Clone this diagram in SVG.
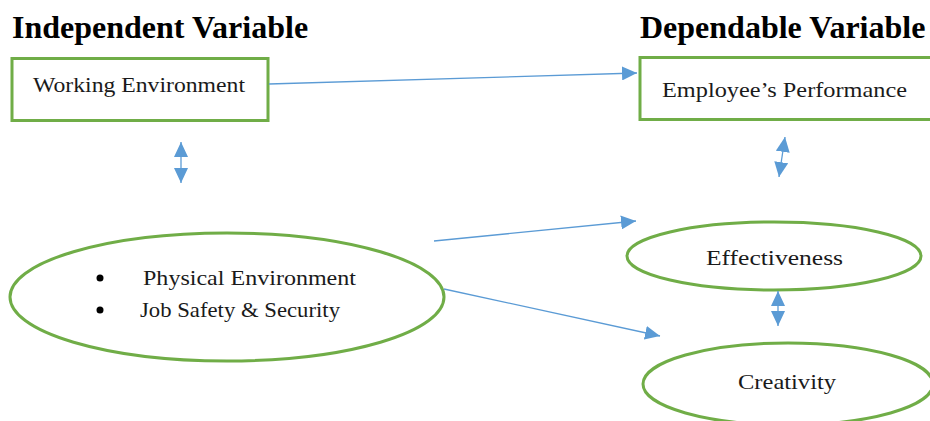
<svg xmlns="http://www.w3.org/2000/svg" width="930" height="421" viewBox="0 0 930 421">
<style>
.title{font-family:"Liberation Serif","Times New Roman",serif;font-weight:bold;font-size:32px;fill:#000}
.lbl{font-family:"Liberation Serif","Times New Roman",serif;font-size:22px;fill:#1a1a1a}
.box{fill:#fff;stroke:#70AD47;stroke-width:3}
.conn{stroke:#5B9BD5;stroke-width:1.3;fill:none}
</style>
<defs>
<marker id="ah" markerUnits="userSpaceOnUse" markerWidth="16" markerHeight="14" refX="15" refY="7" orient="auto-start-reverse">
<path d="M0,0 L15,7 L0,14 z" fill="#5B9BD5"/>
</marker>
</defs>
<rect width="930" height="421" fill="#fff"/>
<text class="title" x="12" y="38">Independent Variable</text>
<text class="title" x="640" y="38">Dependable Variable</text>
<g id="working-environment">
<rect class="box" x="12" y="58.5" width="256" height="62"/>
<text class="lbl" x="33" y="92" textLength="212" lengthAdjust="spacingAndGlyphs">Working Environment</text>
</g>
<g id="employee-performance">
<rect class="box" x="640" y="57.5" width="300" height="62"/>
<text class="lbl" x="662" y="97" textLength="245" lengthAdjust="spacingAndGlyphs">Employee’s Performance</text>
</g>
<g id="factors">
<ellipse class="box" cx="227" cy="297" rx="217" ry="64"/>
<circle cx="100" cy="278" r="3.5" fill="#000"/>
<circle cx="100" cy="310" r="3.5" fill="#000"/>
<text class="lbl" x="143" y="285" textLength="213" lengthAdjust="spacingAndGlyphs">Physical Environment</text>
<text class="lbl" x="140" y="317" textLength="200" lengthAdjust="spacingAndGlyphs">Job Safety &amp; Security</text>
</g>
<g id="effectiveness">
<ellipse class="box" cx="774" cy="256" rx="147" ry="34"/>
<text class="lbl" x="706" y="265" textLength="137" lengthAdjust="spacingAndGlyphs">Effectiveness</text>
</g>
<g id="creativity">
<ellipse class="box" cx="788" cy="384" rx="145" ry="41"/>
<text class="lbl" x="738" y="389" textLength="98" lengthAdjust="spacingAndGlyphs">Creativity</text>
</g>
<g id="connectors">
<line class="conn" x1="269" y1="84" x2="637" y2="73" marker-end="url(#ah)"/>
<line class="conn" x1="434" y1="241" x2="636" y2="221" marker-end="url(#ah)"/>
<line class="conn" x1="444" y1="289" x2="660" y2="336" marker-end="url(#ah)"/>
<line class="conn" x1="181" y1="142" x2="181" y2="183" marker-start="url(#ah)" marker-end="url(#ah)"/>
<line class="conn" x1="785" y1="137" x2="779" y2="177" marker-start="url(#ah)" marker-end="url(#ah)"/>
<line class="conn" x1="778" y1="291" x2="778" y2="326" marker-start="url(#ah)" marker-end="url(#ah)"/>
</g>
</svg>
